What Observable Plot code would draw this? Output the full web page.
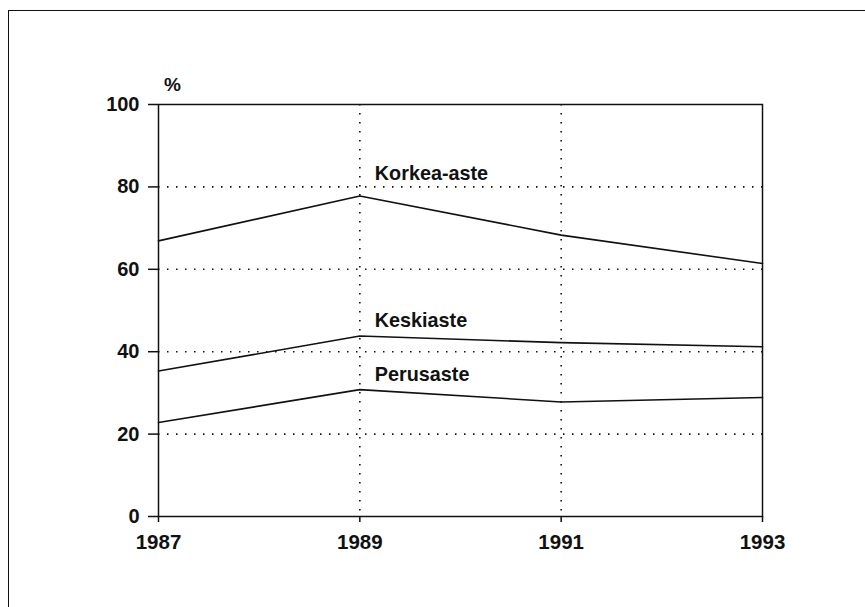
<!DOCTYPE html>
<html>
<head>
<meta charset="utf-8">
<script src="https://cdn.jsdelivr.net/npm/d3@7"></script>
<script src="https://cdn.jsdelivr.net/npm/@observablehq/plot@0.6"></script>
<style>
  html, body { margin: 0; padding: 0; background: #fff; width: 865px; height: 607px; overflow: hidden; }
  #wrap { position: relative; width: 865px; height: 607px; }
  #outer { position: absolute; left: 8px; top: 10px; width: 900px; height: 700px;
           border-left: 1.5px solid #111; border-top: 1.5px solid #111; }
  #chart { position: absolute; left: 0; top: 0; }
</style>
</head>
<body>
<div id="wrap"><div id="outer"></div><div id="chart"></div></div>
<script>
const years = [1987, 1989, 1991, 1993];
const korkea = [66.9, 77.8, 68.3, 61.4];
const keski = [35.3, 43.8, 42.2, 41.2];
const perus = [22.8, 30.8, 27.8, 28.9];
const seriesNames = ["Korkea-aste", "Keskiaste", "Perusaste"];
const seriesValues = [korkea, keski, perus];
const labelYear = [1989, 1989, 1989];
const labelValue = [81.6, 45.9, 32.8];
const yTicks = [0, 20, 40, 60, 80, 100];
const yGrid = [20, 40, 60, 80];
const xGrid = [1989, 1991];
const unitLabel = "%";

const rows = seriesNames.flatMap((name, i) =>
  years.map((yr, j) => ({series: name, year: yr, value: seriesValues[i][j]})));
const labels = seriesNames.map((name, i) => ({name, year: labelYear[i], value: labelValue[i]}));

const font = "'Liberation Sans', Arial, sans-serif";
const chart = Plot.plot({
  width: 865,
  height: 607,
  marginLeft: 158,
  marginRight: 103,
  marginTop: 104,
  marginBottom: 91,
  style: {fontFamily: font, fontSize: "20px", fontWeight: "bold", color: "#111", background: "transparent", overflow: "visible"},
  x: {domain: [1987, 1993]},
  y: {domain: [0, 100]},
  marks: [
    Plot.gridY(yGrid, {stroke: "#111", strokeOpacity: 1, strokeWidth: 1.6, strokeDasharray: "1.5,7.5"}),
    Plot.gridX(xGrid, {stroke: "#111", strokeOpacity: 1, strokeWidth: 1.6, strokeDasharray: "1.5,7.5"}),
    Plot.frame({stroke: "#111", strokeWidth: 1.5}),
    Plot.axisY(yTicks, {tickSize: 10, tickPadding: 9, fontSize: 20, fontWeight: "bold", label: null, strokeWidth: 1.5}),
    Plot.axisX(years, {tickSize: 6, tickPadding: 12, tickFormat: "d", fontSize: 20.5, fontWeight: "bold", label: null, strokeWidth: 1.5}),
    Plot.line(rows, {x: "year", y: "value", z: "series", stroke: "#111", strokeWidth: 1.6}),
    Plot.text(labels, {x: "year", y: "value", text: "name", dx: 15, textAnchor: "start", lineAnchor: "bottom", fontSize: 19.8, fontWeight: "bold", fill: "#111"}),
    Plot.text([unitLabel], {x: years[0], y: 100, text: d => d, dx: 14, dy: -20, fontSize: 19, fontWeight: "bold", fill: "#111"})
  ]
});
document.getElementById("chart").appendChild(chart);
</script>
</body>
</html>
